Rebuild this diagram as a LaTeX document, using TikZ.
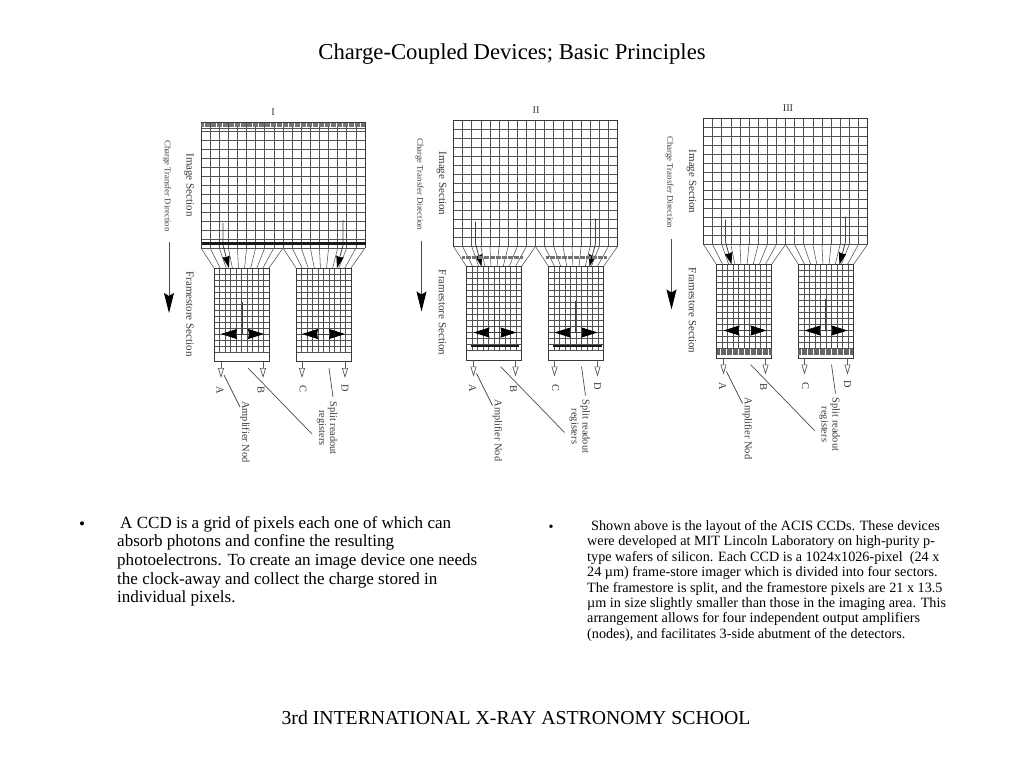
\documentclass[tikz,border=0pt]{standalone}
\usepackage{fontspec}
\setmainfont{Liberation Serif}
\usetikzlibrary{positioning,arrows.meta,calc}
\tikzset{
  gridline/.style={draw=black!68,line width=0.55pt},
  outline/.style={draw=black!78,line width=0.8pt},
  flow/.style={draw=black!75,line width=0.8pt,-{Stealth[length=12pt,width=7.5pt,inset=1pt,black]}},
  split/.style={draw=black!75,line width=0.8pt,-{Stealth[length=16pt,width=10pt,inset=1pt,black]}},
  transfer/.style={draw=black!70,line width=1pt,-{Stealth[length=20pt,width=10pt,inset=3pt,black]}},
  outflow/.style={draw=black!65,line width=0.7pt,-{Triangle[open,length=10pt,width=6pt,fill=white]}},
  leader/.style={draw=black!70,line width=0.7pt},
  heavybar/.style={draw=black!90,line width=2.6pt},
  denseband/.style={draw=black!55,line width=3.4pt,dash pattern=on 0.6pt off 0.6pt},
  scantext/.style={inner sep=0pt,text=black!78,font=\fontsize{10.4}{11}\selectfont},
  sectiontext/.style={inner sep=0pt,text=black!78,font=\fontsize{11}{11}\selectfont},
  smallscan/.style={inner sep=0pt,text=black!75,font=\fontsize{8.7}{9}\selectfont},
  titletext/.style={inner sep=0pt,font=\fontsize{22.7}{24}\selectfont},
  schooltext/.style={inner sep=0pt,font=\fontsize{19.75}{24}\selectfont},
  leftbody/.style={inner sep=0pt,font=\fontsize{17.05}{18.6}\selectfont},
  rightbody/.style={inner sep=0pt,font=\fontsize{14.2}{15.45}\selectfont},
}
\begin{document}
\begin{tikzpicture}[x=1pt,y=-1pt]
\useasboundingbox (0,0) rectangle (1024,768);
\node[titletext] (title) at (512,54) {Charge-Coupled Devices; Basic Principles};
\node[schooltext] (school) at (516,718) {3rd INTERNATIONAL X-RAY ASTRONOMY SCHOOL};
% the three readout stages
\foreach \panel/\dx/\dy/\rom/\romx in {a/0/0/I/273,b/252.5/-1.5/II/283.5,c/502.5/-3.5/III/285.5}{
\begin{scope}[shift={(\dx,\dy)}]
  \node[scantext] (rom\panel) at (\romx,112) {\rom};
  % image section
  \foreach \i in {0,...,18} \draw[gridline] ({201+9.11*\i},122) -- ({201+9.11*\i},248);
  \foreach \i in {0,...,14} \draw[gridline] (201,{122+9*\i}) -- (365,{122+9*\i});
  \draw[outline] (201,248) -- (201,122) -- (365,122) -- (365,248);
  % funnels and framestores
  \foreach \fx/\sx in {201/214,283/296}{
    \foreach \i in {0,...,9} \draw[gridline] ({\fx+9.11*\i},248) -- ({\sx+6.11*\i},268);
    \foreach \i in {0,...,10} \draw[gridline] ({\sx+5.5*\i},268) -- ({\sx+5.5*\i},352);
    \foreach \i in {0,...,14} \draw[gridline] (\sx,{268+6*\i}) -- ({\sx+55},{268+6*\i});
    \draw[outline] (\sx,268) rectangle ({\sx+55},361.5);
  }
  % charge flow
  \coordinate (inA\panel) at (223,223);
  \coordinate (bendA\panel) at (223,245);
  \coordinate (gateA\panel) at (229,268);
  \coordinate (inB\panel) at (343,220);
  \coordinate (bendB\panel) at (343,245);
  \coordinate (gateB\panel) at (337,268);
  \draw[flow] (inA\panel) -- (bendA\panel) -- (gateA\panel);
  \draw[flow] (inB\panel) -- (bendB\panel) -- (gateB\panel);
  \foreach \stem/\lft/\rgt/\side in {242/221/264/L,323/302/345/R}{
    \coordinate (stem\side\panel) at (\stem,302);
    \coordinate (fork\side\panel) at (\stem,334);
    \coordinate (lft\side\panel) at (\lft,334);
    \coordinate (rgt\side\panel) at (\rgt,334);
    \draw[draw=black!75,line width=0.9pt] (stem\side\panel) -- (fork\side\panel);
    \draw[split] (fork\side\panel) -- (lft\side\panel);
    \draw[split] (fork\side\panel) -- (rgt\side\panel);
  }
  % outputs
  \foreach \lab/\ox/\lx/\ly in {A/221/220/390,B/263/261/390,C/302/303/389,D/345/345/388}{
    \coordinate (out\lab\panel) at (\ox,361.5);
    \coordinate (tip\lab\panel) at (\ox,378);
    \draw[outflow] (out\lab\panel) -- (tip\lab\panel);
    \node[scantext,rotate=-90] (lab\lab\panel) at (\lx,\ly) {\lab};
  }
  \node[scantext,rotate=-90] (amp\panel) at (245,432) {Amplifier Nod};
  \node[scantext,rotate=-90,align=center] (reg\panel) at (327,428) {Split readout\\registers};
  \coordinate (ampfoot\panel) at (224,375);
  \coordinate (amphead\panel) at (240,407);
  \coordinate (regfootB\panel) at (248,368);
  \coordinate (regheadB\panel) at (312,434);
  \coordinate (regfootD\panel) at (329,368);
  \coordinate (regheadD\panel) at (333,397);
  \draw[leader] (ampfoot\panel) -- (amphead\panel);
  \draw[leader] (regfootB\panel) -- (regheadB\panel);
  \draw[leader] (regfootD\panel) -- (regheadD\panel);
  % side captions
  \node[smallscan,rotate=-90] (dir\panel) at (167,186) {Charge Transfer Direction};
  \node[sectiontext,rotate=-90] (img\panel) at (189,185) {Image Section};
  \node[sectiontext,rotate=-90] (frm\panel) at (190,314) {Framestore Section};
  \coordinate (dirtop\panel) at (169,242);
  \coordinate (dirtip\panel) at (169,313);
  \draw[transfer] (dirtop\panel) -- (dirtip\panel);
\end{scope}
}
% where the charge sits in each stage
\draw[denseband] (201,125) -- (365,125);
\draw[gridline] (201,128) -- (365,128);
\draw[heavybar] (202,243.5) -- (366,243.5);
\draw[denseband,line width=2.8pt] (462,257.5) -- (523,257.5);
\draw[denseband,line width=2.8pt] (546,257.5) -- (607,257.5);
\draw[heavybar,line width=2.2pt] (471,346) -- (519,346);
\draw[heavybar,line width=2.2pt] (553,346) -- (602,346);
\draw[denseband,draw=black!60,line width=5.5pt] (717,352) -- (772,352);
\draw[denseband,draw=black!60,line width=5.5pt] (798,352) -- (853,352);
% bullets
\node[leftbody] (bulletL) at (82,526) {•};
\node[leftbody,anchor=north west,align=left] (textL) at (117,516) {\hspace{3pt}A CCD is a grid of pixels each one of which can\\absorb photons and confine the resulting\\photoelectrons. To create an image device one needs\\the clock-away and collect the charge stored in\\individual pixels.};
\node[rightbody] (bulletR) at (551,528) {•};
\node[rightbody,anchor=north west,align=left] (textR) at (587,520) {\hspace{4pt}Shown above is the layout of the ACIS CCDs. These devices\\were developed at MIT Lincoln Laboratory on high-purity p-\\type wafers of silicon. Each CCD is a 1024x1026-pixel\ \ (24 x\\24 µm) frame-store imager which is divided into four sectors.\\The framestore is split, and the framestore pixels are 21 x 13.5\\µm in size slightly smaller than those in the imaging area. This\\arrangement allows for four independent output amplifiers\\(nodes), and facilitates 3-side abutment of the detectors.};
\end{tikzpicture}
\end{document}
